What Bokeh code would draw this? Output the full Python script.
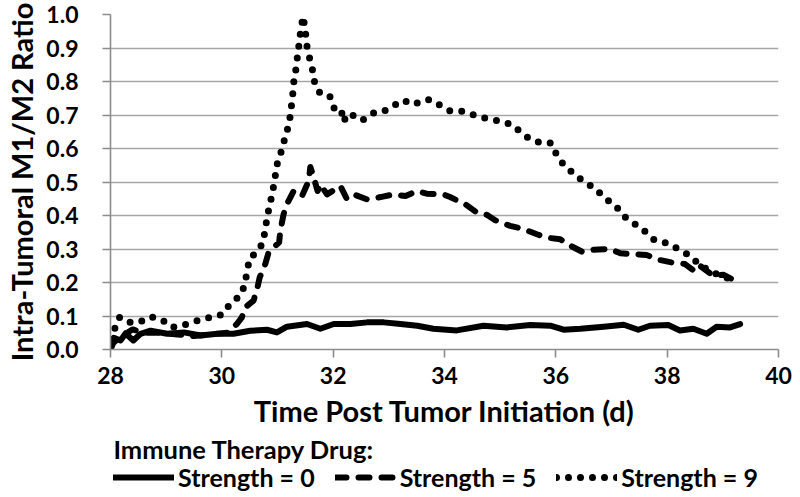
from bokeh.plotting import figure
from bokeh.layouts import column
from bokeh.models import FixedTicker, PrintfTickFormatter, Legend, LegendItem, Range1d, Label
from bokeh.embed import file_html
from bokeh.resources import INLINE

# Strength = 0 (solid)
x0 = [28.0, 28.06, 28.18, 28.27, 28.41, 28.54, 28.72, 29.02, 29.32, 29.62, 29.92, 30.21, 30.51, 30.81, 30.99,
      31.17, 31.53, 31.77, 32.01, 32.31, 32.61, 32.91, 33.21, 33.51, 33.8, 34.22, 34.7, 35.12, 35.54, 35.9,
      36.14, 36.44, 36.86, 37.22, 37.48, 37.69, 38.02, 38.23, 38.47, 38.71, 38.89, 39.13, 39.31]
y0 = [0.0, 0.035, 0.027, 0.048, 0.027, 0.047, 0.056, 0.047, 0.051, 0.042, 0.047, 0.047, 0.056, 0.059, 0.051,
      0.068, 0.076, 0.062, 0.076, 0.076, 0.081, 0.081, 0.076, 0.071, 0.062, 0.057, 0.071, 0.066, 0.073, 0.071,
      0.059, 0.062, 0.068, 0.074, 0.059, 0.071, 0.073, 0.057, 0.062, 0.047, 0.068, 0.066, 0.076]

# Strength = 5 (dashed)
x5 = [28.0, 28.05, 28.2, 28.4, 28.6, 28.9, 29.2, 29.5, 29.8, 30.1, 30.27, 30.36, 30.42, 30.57, 30.64,
      30.68, 30.78, 30.84, 31.03, 31.05, 31.11, 31.17, 31.29, 31.44, 31.56, 31.59, 31.64, 31.72, 31.77, 31.89,
      32.13, 32.25, 32.4, 32.61, 32.85, 33.09, 33.3, 33.5, 33.68, 33.98, 34.1, 34.37, 34.58, 34.76, 34.91,
      35.18, 35.39, 35.66, 35.84, 36.08, 36.26, 36.47, 36.68, 36.98, 37.16, 37.39, 37.63, 37.87, 38.08, 38.32,
      38.5, 38.59, 38.83, 39.01, 39.25]
y5 = [0.0, 0.02, 0.04, 0.06, 0.05, 0.05, 0.045, 0.04, 0.045, 0.05, 0.076, 0.096, 0.126, 0.146, 0.185,
      0.215, 0.255, 0.29, 0.32, 0.354, 0.404, 0.434, 0.473, 0.458, 0.503, 0.545, 0.52, 0.473, 0.493, 0.463,
      0.488, 0.448, 0.461, 0.448, 0.455, 0.463, 0.458, 0.473, 0.465, 0.463, 0.455, 0.434, 0.409, 0.402, 0.386,
      0.369, 0.361, 0.344, 0.334, 0.329, 0.31, 0.292, 0.298, 0.3, 0.287, 0.285, 0.282, 0.267, 0.26, 0.255,
      0.233, 0.25, 0.22, 0.223, 0.203]

# Strength = 9 (dotted)
x9 = [28.0, 28.09, 28.16, 28.3, 28.51, 28.72, 28.93, 29.11, 29.38, 29.6, 29.8, 30.0, 30.15, 30.33, 30.42,
      30.45, 30.51, 30.63, 30.74, 30.78, 30.82, 30.87, 30.92, 30.96, 31.0, 31.08, 31.14, 31.21, 31.24, 31.27,
      31.29, 31.33, 31.36, 31.39, 31.42, 31.46, 31.5, 31.52, 31.57, 31.63, 31.67, 31.77, 31.94, 32.02, 32.14,
      32.19, 32.25, 32.38, 32.52, 32.72, 32.88, 33.07, 33.25, 33.45, 33.6, 33.73, 33.9, 34.09, 34.33, 34.53,
      34.74, 34.98, 35.2, 35.37, 35.54, 35.74, 35.92, 36.02, 36.16, 36.34, 36.5, 36.71, 36.87, 37.07, 37.22,
      37.39, 37.59, 37.77, 37.99, 38.22, 38.42, 38.58, 38.77, 38.95, 39.25]
y9 = [0.03, 0.068, 0.096, 0.081, 0.081, 0.098, 0.088, 0.066, 0.076, 0.088, 0.096, 0.104, 0.136, 0.161, 0.196,
      0.235, 0.275, 0.29, 0.319, 0.359, 0.401, 0.438, 0.478, 0.518, 0.558, 0.597, 0.636, 0.674, 0.714, 0.754,
      0.796, 0.836, 0.877, 0.915, 0.957, 0.994, 0.953, 0.913, 0.874, 0.834, 0.795, 0.763, 0.756, 0.719, 0.719,
      0.679, 0.703, 0.698, 0.684, 0.706, 0.709, 0.726, 0.744, 0.731, 0.743, 0.746, 0.731, 0.713, 0.711, 0.7,
      0.69, 0.682, 0.672, 0.649, 0.627, 0.617, 0.616, 0.579, 0.547, 0.523, 0.501, 0.481, 0.453, 0.43, 0.398,
      0.378, 0.354, 0.327, 0.318, 0.298, 0.279, 0.253, 0.235, 0.22, 0.205]

x_ticks = [28, 30, 32, 34, 36, 38, 40]
y_ticks = [0.0, 0.1, 0.2, 0.3, 0.4, 0.5, 0.6, 0.7, 0.8, 0.9, 1.0]
series_labels = ["Strength = 0", "Strength = 5", "Strength = 9"]
legend_title = "Immune Therapy Drug:"
x_title = "Time Post Tumor Initiation (d)"
y_title = "Intra-Tumoral M1/M2 Ratio"

FONT = "Lato"
STYLES = [dict(line_width=6), dict(line_width=6, line_dash="11 12"), dict(line_width=7, line_dash="0 12")]
series = [(x0, y0), (x5, y5), (x9, y9)]

W = 800
H1 = 435
H2 = 497 - H1

p = figure(width=W, height=H1, output_backend="svg", toolbar_location=None,
           x_range=Range1d(28, 40), y_range=Range1d(0, 1),
           min_border_left=110, min_border_right=22, min_border_top=14, min_border_bottom=H1 - 349)
p.outline_line_color = None

for (xs, ys), st in zip(series, STYLES):
    p.line(xs, ys, color="black", line_cap="round", line_join="round", **st)

p.xgrid.visible = False
p.ygrid.ticker = FixedTicker(ticks=y_ticks)
p.ygrid.grid_line_color = "#a6a6a6"
p.ygrid.grid_line_width = 1.6

for ax in (p.xaxis[0], p.yaxis[0]):
    ax.axis_line_color = "#8c8c8c"
    ax.axis_line_width = 1.6
    ax.major_tick_line_color = "#8c8c8c"
    ax.major_tick_line_width = 1.6
    ax.major_tick_in = 0
    ax.major_tick_out = 8
    ax.minor_tick_line_color = None
    ax.major_label_text_font = FONT
    ax.major_label_text_font_style = "bold"
    ax.major_label_text_font_size = "23px"
    ax.major_label_text_color = "black"
    ax.axis_label_text_font = FONT
    ax.axis_label_text_font_style = "bold"
    ax.axis_label_text_color = "black"

p.xaxis.axis_label_text_font_size = "29px"
p.yaxis.axis_label_text_font_size = "29px"
p.xaxis.ticker = FixedTicker(ticks=x_ticks)
p.yaxis.ticker = FixedTicker(ticks=y_ticks)
p.yaxis.formatter = PrintfTickFormatter(format="%.1f")
p.xaxis.axis_label = x_title
p.yaxis.axis_label = y_title
p.xaxis.major_label_standoff = 9
p.xaxis.axis_label_standoff = 6
p.yaxis.major_label_standoff = 24
p.yaxis.axis_label_standoff = 4

# legend strip below the chart (lines drawn from the same data, outside its view)
p2 = figure(width=W, height=H2, output_backend="svg", toolbar_location=None,
            x_range=Range1d(0, 1), y_range=Range1d(0, 1),
            x_axis_location=None, y_axis_location=None,
            min_border_left=0, min_border_right=0, min_border_top=0, min_border_bottom=0)
p2.outline_line_color = None
p2.xgrid.visible = False
p2.ygrid.visible = False
rs = [p2.line(xs, ys, color="black", line_cap="round", line_join="round", **st)
      for (xs, ys), st in zip(series, STYLES)]

p2.add_layout(Label(x=3, y=H2 - 13, x_units="screen", y_units="screen", text=legend_title,
                    text_font=FONT, text_font_style="bold", text_font_size="25.5px",
                    text_color="black", text_align="left", text_baseline="middle"))

legend = Legend(items=[LegendItem(label=lab, renderers=[r]) for lab, r in zip(series_labels, rs)],
                orientation="horizontal", location=(3, 5),
                label_text_font=FONT, label_text_font_style="bold", label_text_font_size="25px",
                label_text_color="black", label_standoff=4,
                glyph_width=61, glyph_height=24, spacing=20, padding=0, margin=0,
                border_line_color=None, background_fill_alpha=0)
p2.add_layout(legend)

layout = column(p, p2, spacing=0)
open("out.html", "w").write(file_html(layout, INLINE))
